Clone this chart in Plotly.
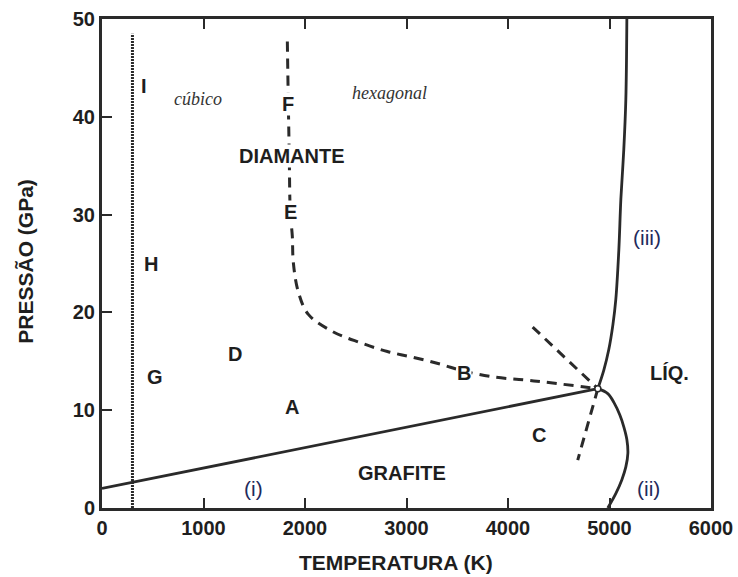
import plotly.graph_objects as go

# Phase boundaries of carbon (temperature in K, pressure in GPa)
triple_T, triple_P = 4885, 12.2

gd_T = [0, triple_T]                      # graphite / diamond line (i)
gd_P = [2.0, triple_P]

melt_d_T = [4885, 4944, 4993, 5033, 5062, 5092, 5112, 5141, 5161, 5171]   # diamond melting (iii)
melt_d_P = [12.2, 14.1, 16.2, 18.7, 21.3, 26.4, 31.6, 36.7, 41.8, 50.0]

melt_g_T = [4885, 4983, 5043, 5102, 5141, 5171, 5181, 5161, 5122, 5063, 4983]  # graphite melting (ii)
melt_g_P = [12.2, 11.7, 10.8, 9.5, 8.3, 7.0, 5.6, 4.2, 2.9, 1.5, 0.0]

meta_T = [1826, 1835, 1845, 1855, 1875, 1885, 1934, 2033, 2280, 2546, 2812,
          3069, 3335, 3562, 3858, 4154, 4421, 4885]                 # metastable diamond limit
meta_P = [47.7, 41.8, 36.0, 30.3, 27.8, 25.1, 22.1, 19.8, 18.0, 16.9, 16.0,
          15.4, 14.7, 14.0, 13.4, 13.1, 12.8, 12.2]

upper_T = [4243, 4885]
upper_P = [18.5, 12.2]
lower_T = [4885, 4687]
lower_P = [12.2, 4.9]

room_T = [300, 300]
room_P = [0, 48.5]

x_ticks = [0, 1000, 2000, 3000, 4000, 5000, 6000]
y_ticks = [0, 10, 20, 30, 40, 50]
x_title = "TEMPERATURA (K)"
y_title = "PRESSÃO (GPa)"

region_labels = ["I", "F", "DIAMANTE", "E", "H", "D", "G", "A", "B", "C", "LÍQ.", "GRAFITE"]
region_T = [414, 1835, 1875, 1855, 484, 1312, 523, 1875, 3562, 4302, 5595, 2960]
region_P = [43.2, 41.3, 36.0, 30.3, 25.0, 15.7, 13.4, 10.3, 13.8, 7.5, 13.8, 3.6]
masked = {"F", "DIAMANTE", "E", "B"}

italic_labels = ["cúbico", "hexagonal"]
italic_T = [947, 2832]
italic_P = [41.8, 42.4]

curve_labels = ["(i)", "(ii)", "(iii)"]
curve_T = [1490, 5388, 5368]
curve_P = [2.0, 2.0, 27.7]

ink = "#2a2a2a"
sans = "Liberation Sans, Arial, sans-serif"

fig = go.Figure()
solid = dict(color=ink, width=2.8)
dashed = dict(color=ink, width=3, dash="10px,7px")

fig.add_trace(go.Scatter(x=room_T, y=room_P, mode="lines",
                         line=dict(color=ink, width=3, dash="2px,1px")))
fig.add_trace(go.Scatter(x=meta_T, y=meta_P, mode="lines", line=dashed, line_shape="spline"))
fig.add_trace(go.Scatter(x=upper_T, y=upper_P, mode="lines", line=dashed))
fig.add_trace(go.Scatter(x=lower_T, y=lower_P, mode="lines", line=dashed))
fig.add_trace(go.Scatter(x=gd_T, y=gd_P, mode="lines", line=solid))
fig.add_trace(go.Scatter(x=melt_d_T, y=melt_d_P, mode="lines", line=solid, line_shape="spline"))
fig.add_trace(go.Scatter(x=melt_g_T, y=melt_g_P, mode="lines", line=solid, line_shape="spline"))
fig.add_trace(go.Scatter(x=[triple_T], y=[triple_P], mode="markers",
                         marker=dict(size=6, color="white", line=dict(color=ink, width=1.5))))

for txt, t, p in zip(region_labels, region_T, region_P):
    fig.add_annotation(x=t, y=p, text=txt, showarrow=False,
                       font=dict(family=sans, size=20, color="#1e1e1e", weight="bold"),
                       bgcolor="white" if txt in masked else None, borderpad=0)
for txt, t, p in zip(italic_labels, italic_T, italic_P):
    fig.add_annotation(x=t, y=p, text=f"<i>{txt}</i>", showarrow=False,
                       font=dict(family="Liberation Serif, Times New Roman, serif", size=18, color="#333333"))
for txt, t, p in zip(curve_labels, curve_T, curve_P):
    fig.add_annotation(x=t, y=p, text=txt, showarrow=False,
                       font=dict(family=sans, size=21, color="#1f2a5c"))

# axis titles placed in paper coordinates below / left of the frame
fig.add_annotation(xref="paper", yref="paper", x=0.483, y=-0.112, text=x_title,
                   showarrow=False, xanchor="center", yanchor="middle", borderpad=0,
                   font=dict(family=sans, size=21, color="#1e1e1e", weight="bold"))
fig.add_annotation(xref="paper", yref="paper", x=-0.127, y=0.505, text=y_title,
                   showarrow=False, textangle=-90, xanchor="center", yanchor="middle",
                   font=dict(family=sans, size=21, color="#1e1e1e", weight="bold"))

axis_common = dict(showline=True, linecolor=ink, linewidth=3, ticks="inside", ticklen=10,
                   tickwidth=2, tickcolor=ink, showgrid=False, zeroline=False, automargin=False,
                   tickfont=dict(family=sans, size=20, color="#1e1e1e", weight="bold"))

fig.update_xaxes(range=[0, 6000], tickvals=x_ticks, mirror="ticks", **axis_common)
fig.update_yaxes(range=[0, 50], tickvals=y_ticks, mirror=True, **axis_common)

fig.update_layout(width=738, height=577, showlegend=False,
                  margin=dict(l=102, r=27, t=19, b=69),
                  plot_bgcolor="white", paper_bgcolor="white")

fig.write_html("out.html")
